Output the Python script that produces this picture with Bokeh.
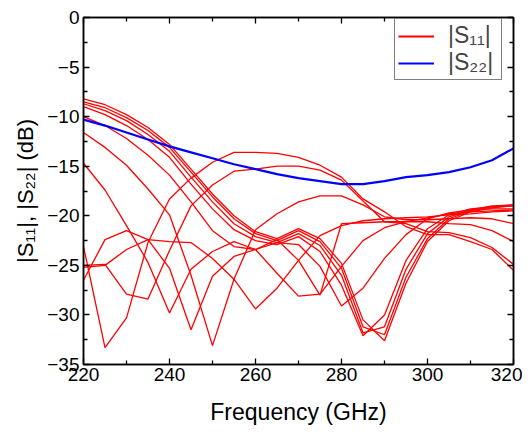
from bokeh.plotting import figure
from bokeh.models import LinearAxis, Range1d, Legend, LegendItem, FixedTicker, CustomJSTickFormatter
from bokeh.embed import file_html
from bokeh.resources import INLINE

freq = [220, 225, 230, 235, 240, 245, 250, 255, 260, 265, 270,
        275, 280, 285, 290, 295, 300, 305, 310, 315, 320]

s11_a = [-8.2, -8.8, -9.8, -11.1, -12.8, -15.3, -17.8, -20.0, -21.6, -22.3, -21.3,
         -22.3, -24.8, -30.5, -32.6, -26.8, -22.6, -20.5, -19.6, -19.2, -19.0]
s11_b = [-8.5, -9.1, -10.1, -11.4, -13.1, -15.6, -18.1, -20.3, -21.8, -22.5, -21.5,
         -22.6, -25.3, -31.2, -32.0, -26.2, -22.3, -20.3, -19.5, -19.1, -18.9]
s11_c = [-8.7, -9.4, -10.4, -11.8, -13.5, -16.1, -18.6, -20.8, -22.1, -22.7, -21.8,
         -23.0, -26.0, -31.8, -31.2, -25.4, -21.8, -20.1, -19.4, -19.0, -18.9]
s11_d = [-9.0, -9.8, -10.9, -12.3, -14.1, -16.8, -19.3, -21.4, -22.5, -22.9, -22.1,
         -23.6, -27.0, -32.1, -30.0, -24.5, -21.3, -19.9, -19.3, -19.1, -19.0]
s11_e = [-10.0, -10.9, -12.2, -13.9, -15.9, -18.6, -21.5, -23.1, -23.4, -22.7, -22.9,
         -25.1, -29.1, -27.3, -24.3, -21.9, -20.3, -19.7, -19.4, -19.3, -19.3]
s11_f = [-11.6, -13.1, -14.9, -17.3, -19.9, -26.0, -33.1, -26.4, -21.4, -19.8, -18.6,
         -18.0, -18.0, -18.9, -20.1, -20.4, -20.4, -20.3, -20.2, -20.3, -20.8]
s11_g = [-14.7, -17.4, -21.0, -24.7, -29.8, -25.4, -23.6, -22.6, -23.4, -25.8, -28.1,
         -27.9, -25.1, -22.5, -21.2, -20.6, -20.2, -19.8, -19.6, -19.5, -19.4]
s11_h = [-23.1, -33.3, -30.3, -22.7, -18.3, -16.2, -14.6, -13.6, -13.6, -13.7, -14.1,
         -14.9, -16.1, -18.3, -19.6, -21.1, -21.9, -21.9, -22.6, -23.4, -25.5]
s11_i = [-25.0, -24.9, -27.9, -28.4, -23.5, -19.0, -16.9, -15.5, -15.3, -15.0, -15.0,
         -15.4, -16.4, -18.5, -20.6, -20.8, -21.6, -21.7, -22.2, -23.2, -24.9]
s11_j = [-26.5, -22.4, -21.5, -22.4, -25.3, -31.5, -26.1, -24.1, -23.4, -22.4, -24.5,
         -28.0, -20.8, -20.7, -20.6, -20.6, -20.6, -20.8, -20.9, -21.5, -22.6]
s11_k = [-25.2, -25.0, -23.4, -22.4, -22.6, -22.7, -24.3, -26.4, -29.4, -27.3, -24.5,
         -22.0, -21.0, -20.5, -20.3, -20.2, -20.1, -19.9, -19.8, -19.6, -19.5]

s22 = [-10.3, -10.9, -11.6, -12.3, -13.0, -13.6, -14.2, -14.8, -15.3, -15.8, -16.2,
       -16.5, -16.8, -16.8, -16.5, -16.1, -15.9, -15.6, -15.1, -14.4, -13.2]

s11_all = [s11_a, s11_b, s11_c, s11_d, s11_e, s11_f, s11_g, s11_h, s11_i, s11_j, s11_k]

x_ticks = [220, 240, 260, 280, 300, 320]
x_minor = [230, 250, 270, 290, 310]
y_ticks = [0, -5, -10, -15, -20, -25, -30, -35]
y_minor = [-2.5, -7.5, -12.5, -17.5, -22.5, -27.5, -32.5]

legend_labels = ["|S\u2081\u2081|", "|S\u2082\u2082|"]

FONT = "Liberation Sans"

p = figure(width=522, height=427, output_backend="svg", toolbar_location=None,
           x_range=Range1d(220, 320), y_range=Range1d(-35, 0),
           min_border_left=83, min_border_right=9, min_border_top=17, min_border_bottom=61)

p.xgrid.visible = False
p.ygrid.visible = False
p.outline_line_color = "black"
p.outline_line_width = 1.5

for ys in s11_all:
    p.line(freq, ys, line_color="#ff0000", line_width=1.3)
blue = p.line(freq, s22, line_color="#0000ff", line_width=2.2)
# single-point line: invisible in the plot, used only as the legend key
red_key = p.line(x=freq[:1], y=s11_a[:1], line_color="#ff0000", line_width=2.2)

def style_axis(ax, show_labels):
    ax.axis_line_color = "black"
    ax.axis_line_width = 1.5
    ax.major_tick_in = 6
    ax.major_tick_out = 0
    ax.minor_tick_in = 4
    ax.minor_tick_out = 0
    ax.major_tick_line_width = 1.3
    ax.minor_tick_line_width = 1.3
    ax.major_label_text_font = FONT
    ax.axis_label_text_font = FONT
    ax.axis_label_text_font_style = "normal"
    ax.major_label_text_color = "black"
    ax.axis_label_text_color = "black"
    if not show_labels:
        ax.formatter = CustomJSTickFormatter(code="return '';")
        ax.major_label_standoff = 0

p.xaxis.ticker = FixedTicker(ticks=x_ticks, minor_ticks=x_minor)
p.yaxis.ticker = FixedTicker(ticks=y_ticks, minor_ticks=y_minor)
style_axis(p.xaxis[0], True)
style_axis(p.yaxis[0], True)
p.xaxis.major_label_text_font_size = "19px"
p.yaxis.major_label_text_font_size = "19px"
p.xaxis.major_label_standoff = 3
p.yaxis.major_label_standoff = 4
p.xaxis.axis_label = "Frequency (GHz)"
p.yaxis.axis_label = "|S\u2081\u2081|, |S\u2082\u2082| (dB)"
p.xaxis.axis_label_text_font_size = "23px"
p.yaxis.axis_label_text_font_size = "22px"
p.xaxis.axis_label_standoff = 15
p.yaxis.axis_label_standoff = 6

top = LinearAxis(ticker=FixedTicker(ticks=x_ticks, minor_ticks=x_minor))
right = LinearAxis(ticker=FixedTicker(ticks=y_ticks, minor_ticks=y_minor))
style_axis(top, False)
style_axis(right, False)
p.add_layout(top, "above")
p.add_layout(right, "right")

legend = Legend(items=[LegendItem(label=legend_labels[0], renderers=[red_key]),
                       LegendItem(label=legend_labels[1], renderers=[blue])],
                location=(311, 284), margin=0)
legend.border_line_color = "black"
legend.border_line_width = 1.2
legend.label_text_font = FONT
legend.label_text_font_size = "23px"
legend.glyph_width = 36
legend.glyph_height = 22
legend.label_standoff = 14
legend.label_width = 50
legend.padding = 3
legend.spacing = 0
legend.label_height = 22
legend.background_fill_alpha = 1.0
p.add_layout(legend)

open("out.html", "w").write(file_html(p, INLINE))
